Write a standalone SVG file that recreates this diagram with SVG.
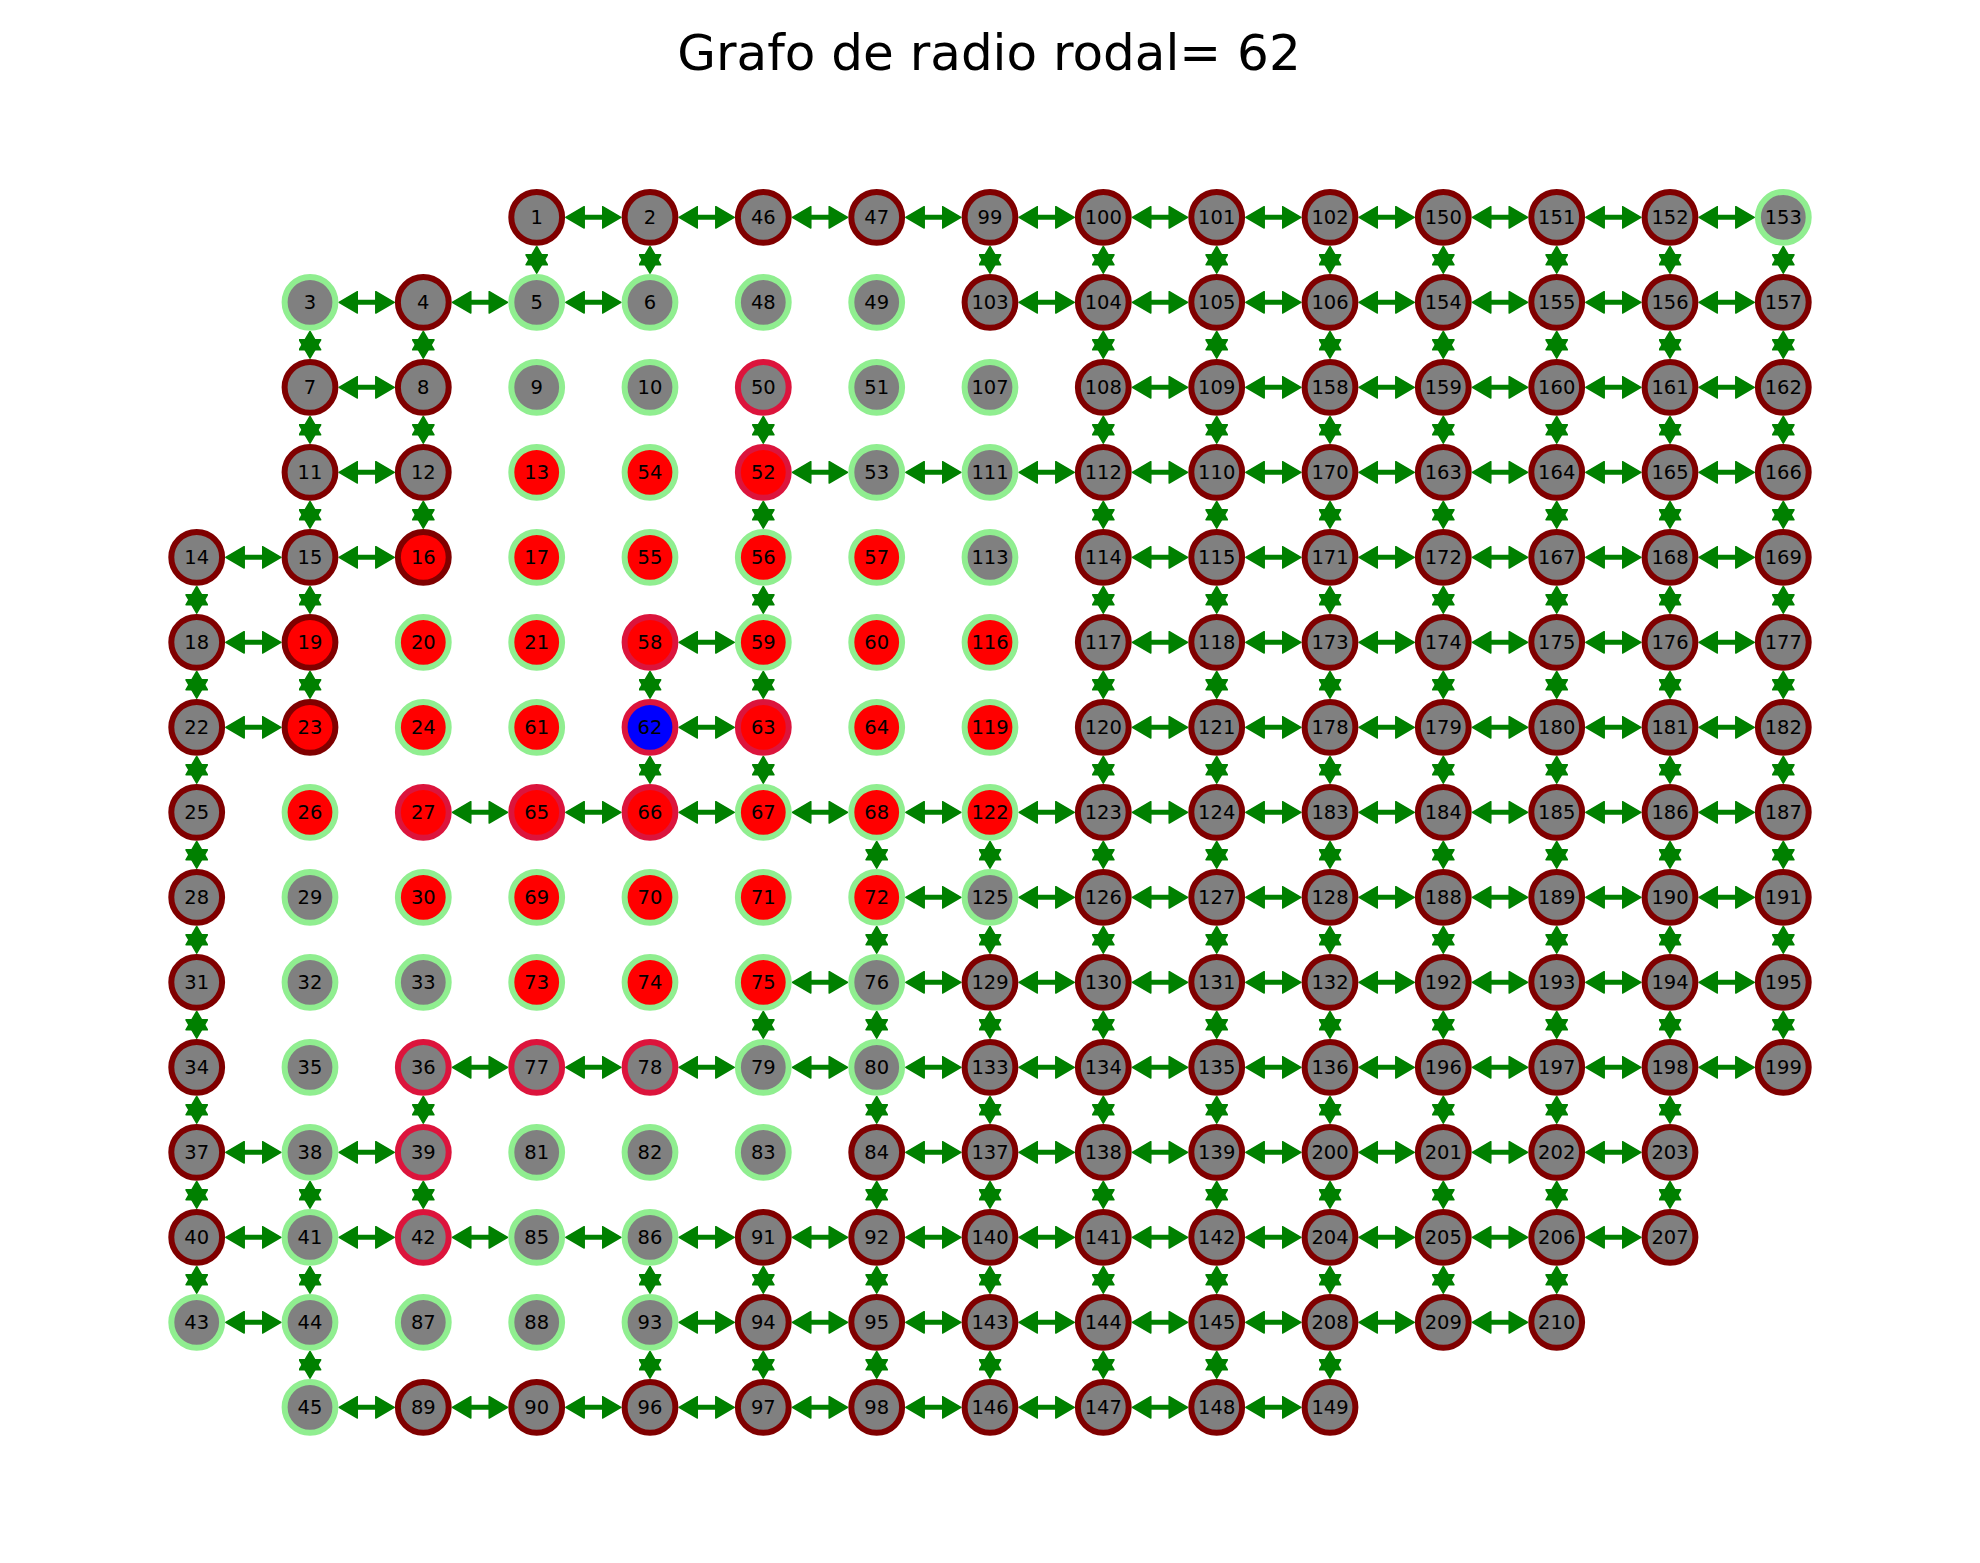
<svg xmlns="http://www.w3.org/2000/svg" width="1980" height="1563" viewBox="0 0 1980 1563">
<style>
.e{fill:none;stroke:#008000;stroke-width:5;marker-start:url(#ah);marker-end:url(#ah)}
.n circle{stroke-width:6}
.n text{font-family:"DejaVu Sans",sans-serif;font-size:19.5px;text-anchor:middle;fill:#000}
.gm circle{fill:#808080;stroke:#800000}
.gl circle{fill:#808080;stroke:#90ee90}
.gc circle{fill:#808080;stroke:#dc143c}
.rm circle{fill:#ff0000;stroke:#800000}
.rl circle{fill:#ff0000;stroke:#90ee90}
.rc circle{fill:#ff0000;stroke:#dc143c}
.bc circle{fill:#0000ff;stroke:#dc143c}
.title{font-family:"DejaVu Sans",sans-serif;font-size:50px;text-anchor:middle;fill:#000}
</style>
<defs>
<marker id="ah" viewBox="0 0 20 23" refX="12" refY="11.5" markerWidth="20" markerHeight="23" markerUnits="userSpaceOnUse" orient="auto-start-reverse">
<path d="M0.8,0.8 L19.2,11.5 L0.8,22.2 Z" fill="#008000" stroke="#008000" stroke-width="1.5" stroke-linejoin="round"/>
</marker>
</defs>
<rect width="1980" height="1563" fill="#fff"/>
<text class="title" x="989" y="70">Grafo de radio rodal= 62</text>
<g id="edges">
<!-- row 0 -->
<path class="e" d="M573 217.3H613.7"/><path class="e" d="M686.3 217.3H727"/><path class="e" d="M799.6 217.3H840.4"/><path class="e" d="M913 217.3H953.7"/><path class="e" d="M1026.3 217.3H1067"/><path class="e" d="M1139.6 217.3H1180.4"/><path class="e" d="M1253 217.3H1293.7"/><path class="e" d="M1366.3 217.3H1407"/><path class="e" d="M1479.6 217.3H1520.4"/><path class="e" d="M1593 217.3H1633.7"/><path class="e" d="M1706.3 217.3H1747"/>
<!-- row 1 -->
<path class="e" d="M346.3 302.3H387"/><path class="e" d="M459.6 302.3H500.4"/><path class="e" d="M573 302.3H613.7"/><path class="e" d="M1026.3 302.3H1067"/><path class="e" d="M1139.6 302.3H1180.4"/><path class="e" d="M1253 302.3H1293.7"/><path class="e" d="M1366.3 302.3H1407"/><path class="e" d="M1479.6 302.3H1520.4"/><path class="e" d="M1593 302.3H1633.7"/><path class="e" d="M1706.3 302.3H1747"/>
<!-- row 2 -->
<path class="e" d="M346.3 387.3H387"/><path class="e" d="M1139.6 387.3H1180.4"/><path class="e" d="M1253 387.3H1293.7"/><path class="e" d="M1366.3 387.3H1407"/><path class="e" d="M1479.6 387.3H1520.4"/><path class="e" d="M1593 387.3H1633.7"/><path class="e" d="M1706.3 387.3H1747"/>
<!-- row 3 -->
<path class="e" d="M346.3 472.3H387"/><path class="e" d="M799.6 472.3H840.4"/><path class="e" d="M913 472.3H953.7"/><path class="e" d="M1026.3 472.3H1067"/><path class="e" d="M1139.6 472.3H1180.4"/><path class="e" d="M1253 472.3H1293.7"/><path class="e" d="M1366.3 472.3H1407"/><path class="e" d="M1479.6 472.3H1520.4"/><path class="e" d="M1593 472.3H1633.7"/><path class="e" d="M1706.3 472.3H1747"/>
<!-- row 4 -->
<path class="e" d="M233 557.3H273.7"/><path class="e" d="M346.3 557.3H387"/><path class="e" d="M1139.6 557.3H1180.4"/><path class="e" d="M1253 557.3H1293.7"/><path class="e" d="M1366.3 557.3H1407"/><path class="e" d="M1479.6 557.3H1520.4"/><path class="e" d="M1593 557.3H1633.7"/><path class="e" d="M1706.3 557.3H1747"/>
<!-- row 5 -->
<path class="e" d="M233 642.3H273.7"/><path class="e" d="M686.3 642.3H727"/><path class="e" d="M1139.6 642.3H1180.4"/><path class="e" d="M1253 642.3H1293.7"/><path class="e" d="M1366.3 642.3H1407"/><path class="e" d="M1479.6 642.3H1520.4"/><path class="e" d="M1593 642.3H1633.7"/><path class="e" d="M1706.3 642.3H1747"/>
<!-- row 6 -->
<path class="e" d="M233 727.3H273.7"/><path class="e" d="M686.3 727.3H727"/><path class="e" d="M1139.6 727.3H1180.4"/><path class="e" d="M1253 727.3H1293.7"/><path class="e" d="M1366.3 727.3H1407"/><path class="e" d="M1479.6 727.3H1520.4"/><path class="e" d="M1593 727.3H1633.7"/><path class="e" d="M1706.3 727.3H1747"/>
<!-- row 7 -->
<path class="e" d="M459.6 812.3H500.4"/><path class="e" d="M573 812.3H613.7"/><path class="e" d="M686.3 812.3H727"/><path class="e" d="M799.6 812.3H840.4"/><path class="e" d="M913 812.3H953.7"/><path class="e" d="M1026.3 812.3H1067"/><path class="e" d="M1139.6 812.3H1180.4"/><path class="e" d="M1253 812.3H1293.7"/><path class="e" d="M1366.3 812.3H1407"/><path class="e" d="M1479.6 812.3H1520.4"/><path class="e" d="M1593 812.3H1633.7"/><path class="e" d="M1706.3 812.3H1747"/>
<!-- row 8 -->
<path class="e" d="M913 897.3H953.7"/><path class="e" d="M1026.3 897.3H1067"/><path class="e" d="M1139.6 897.3H1180.4"/><path class="e" d="M1253 897.3H1293.7"/><path class="e" d="M1366.3 897.3H1407"/><path class="e" d="M1479.6 897.3H1520.4"/><path class="e" d="M1593 897.3H1633.7"/><path class="e" d="M1706.3 897.3H1747"/>
<!-- row 9 -->
<path class="e" d="M799.6 982.3H840.4"/><path class="e" d="M913 982.3H953.7"/><path class="e" d="M1026.3 982.3H1067"/><path class="e" d="M1139.6 982.3H1180.4"/><path class="e" d="M1253 982.3H1293.7"/><path class="e" d="M1366.3 982.3H1407"/><path class="e" d="M1479.6 982.3H1520.4"/><path class="e" d="M1593 982.3H1633.7"/><path class="e" d="M1706.3 982.3H1747"/>
<!-- row 10 -->
<path class="e" d="M459.6 1067.3H500.4"/><path class="e" d="M573 1067.3H613.7"/><path class="e" d="M686.3 1067.3H727"/><path class="e" d="M799.6 1067.3H840.4"/><path class="e" d="M913 1067.3H953.7"/><path class="e" d="M1026.3 1067.3H1067"/><path class="e" d="M1139.6 1067.3H1180.4"/><path class="e" d="M1253 1067.3H1293.7"/><path class="e" d="M1366.3 1067.3H1407"/><path class="e" d="M1479.6 1067.3H1520.4"/><path class="e" d="M1593 1067.3H1633.7"/><path class="e" d="M1706.3 1067.3H1747"/>
<!-- row 11 -->
<path class="e" d="M233 1152.3H273.7"/><path class="e" d="M346.3 1152.3H387"/><path class="e" d="M913 1152.3H953.7"/><path class="e" d="M1026.3 1152.3H1067"/><path class="e" d="M1139.6 1152.3H1180.4"/><path class="e" d="M1253 1152.3H1293.7"/><path class="e" d="M1366.3 1152.3H1407"/><path class="e" d="M1479.6 1152.3H1520.4"/><path class="e" d="M1593 1152.3H1633.7"/>
<!-- row 12 -->
<path class="e" d="M233 1237.3H273.7"/><path class="e" d="M346.3 1237.3H387"/><path class="e" d="M459.6 1237.3H500.4"/><path class="e" d="M573 1237.3H613.7"/><path class="e" d="M686.3 1237.3H727"/><path class="e" d="M799.6 1237.3H840.4"/><path class="e" d="M913 1237.3H953.7"/><path class="e" d="M1026.3 1237.3H1067"/><path class="e" d="M1139.6 1237.3H1180.4"/><path class="e" d="M1253 1237.3H1293.7"/><path class="e" d="M1366.3 1237.3H1407"/><path class="e" d="M1479.6 1237.3H1520.4"/><path class="e" d="M1593 1237.3H1633.7"/>
<!-- row 13 -->
<path class="e" d="M233 1322.3H273.7"/><path class="e" d="M686.3 1322.3H727"/><path class="e" d="M799.6 1322.3H840.4"/><path class="e" d="M913 1322.3H953.7"/><path class="e" d="M1026.3 1322.3H1067"/><path class="e" d="M1139.6 1322.3H1180.4"/><path class="e" d="M1253 1322.3H1293.7"/><path class="e" d="M1366.3 1322.3H1407"/><path class="e" d="M1479.6 1322.3H1520.4"/>
<!-- row 14 -->
<path class="e" d="M346.3 1407.3H387"/><path class="e" d="M459.6 1407.3H500.4"/><path class="e" d="M573 1407.3H613.7"/><path class="e" d="M686.3 1407.3H727"/><path class="e" d="M799.6 1407.3H840.4"/><path class="e" d="M913 1407.3H953.7"/><path class="e" d="M1026.3 1407.3H1067"/><path class="e" d="M1139.6 1407.3H1180.4"/><path class="e" d="M1253 1407.3H1293.7"/>
<!-- col 0 -->
<path class="e" d="M196.7 593.6V606"/><path class="e" d="M196.7 678.6V691"/><path class="e" d="M196.7 763.6V776"/><path class="e" d="M196.7 848.6V861"/><path class="e" d="M196.7 933.6V946"/><path class="e" d="M196.7 1018.6V1031"/><path class="e" d="M196.7 1103.6V1116"/><path class="e" d="M196.7 1188.6V1201"/><path class="e" d="M196.7 1273.6V1286"/>
<!-- col 1 -->
<path class="e" d="M310 338.6V351"/><path class="e" d="M310 423.6V436"/><path class="e" d="M310 508.6V521"/><path class="e" d="M310 593.6V606"/><path class="e" d="M310 678.6V691"/><path class="e" d="M310 1188.6V1201"/><path class="e" d="M310 1273.6V1286"/><path class="e" d="M310 1358.6V1371"/>
<!-- col 2 -->
<path class="e" d="M423.3 338.6V351"/><path class="e" d="M423.3 423.6V436"/><path class="e" d="M423.3 508.6V521"/><path class="e" d="M423.3 1103.6V1116"/><path class="e" d="M423.3 1188.6V1201"/>
<!-- col 3 -->
<path class="e" d="M536.7 253.6V266"/>
<!-- col 4 -->
<path class="e" d="M650 253.6V266"/><path class="e" d="M650 678.6V691"/><path class="e" d="M650 763.6V776"/><path class="e" d="M650 1273.6V1286"/><path class="e" d="M650 1358.6V1371"/>
<!-- col 5 -->
<path class="e" d="M763.3 423.6V436"/><path class="e" d="M763.3 508.6V521"/><path class="e" d="M763.3 593.6V606"/><path class="e" d="M763.3 678.6V691"/><path class="e" d="M763.3 763.6V776"/><path class="e" d="M763.3 1018.6V1031"/><path class="e" d="M763.3 1273.6V1286"/><path class="e" d="M763.3 1358.6V1371"/>
<!-- col 6 -->
<path class="e" d="M876.7 848.6V861"/><path class="e" d="M876.7 933.6V946"/><path class="e" d="M876.7 1018.6V1031"/><path class="e" d="M876.7 1103.6V1116"/><path class="e" d="M876.7 1188.6V1201"/><path class="e" d="M876.7 1273.6V1286"/><path class="e" d="M876.7 1358.6V1371"/>
<!-- col 7 -->
<path class="e" d="M990 253.6V266"/><path class="e" d="M990 848.6V861"/><path class="e" d="M990 933.6V946"/><path class="e" d="M990 1018.6V1031"/><path class="e" d="M990 1103.6V1116"/><path class="e" d="M990 1188.6V1201"/><path class="e" d="M990 1273.6V1286"/><path class="e" d="M990 1358.6V1371"/>
<!-- col 8 -->
<path class="e" d="M1103.3 253.6V266"/><path class="e" d="M1103.3 338.6V351"/><path class="e" d="M1103.3 423.6V436"/><path class="e" d="M1103.3 508.6V521"/><path class="e" d="M1103.3 593.6V606"/><path class="e" d="M1103.3 678.6V691"/><path class="e" d="M1103.3 763.6V776"/><path class="e" d="M1103.3 848.6V861"/><path class="e" d="M1103.3 933.6V946"/><path class="e" d="M1103.3 1018.6V1031"/><path class="e" d="M1103.3 1103.6V1116"/><path class="e" d="M1103.3 1188.6V1201"/><path class="e" d="M1103.3 1273.6V1286"/><path class="e" d="M1103.3 1358.6V1371"/>
<!-- col 9 -->
<path class="e" d="M1216.7 253.6V266"/><path class="e" d="M1216.7 338.6V351"/><path class="e" d="M1216.7 423.6V436"/><path class="e" d="M1216.7 508.6V521"/><path class="e" d="M1216.7 593.6V606"/><path class="e" d="M1216.7 678.6V691"/><path class="e" d="M1216.7 763.6V776"/><path class="e" d="M1216.7 848.6V861"/><path class="e" d="M1216.7 933.6V946"/><path class="e" d="M1216.7 1018.6V1031"/><path class="e" d="M1216.7 1103.6V1116"/><path class="e" d="M1216.7 1188.6V1201"/><path class="e" d="M1216.7 1273.6V1286"/><path class="e" d="M1216.7 1358.6V1371"/>
<!-- col 10 -->
<path class="e" d="M1330 253.6V266"/><path class="e" d="M1330 338.6V351"/><path class="e" d="M1330 423.6V436"/><path class="e" d="M1330 508.6V521"/><path class="e" d="M1330 593.6V606"/><path class="e" d="M1330 678.6V691"/><path class="e" d="M1330 763.6V776"/><path class="e" d="M1330 848.6V861"/><path class="e" d="M1330 933.6V946"/><path class="e" d="M1330 1018.6V1031"/><path class="e" d="M1330 1103.6V1116"/><path class="e" d="M1330 1188.6V1201"/><path class="e" d="M1330 1273.6V1286"/><path class="e" d="M1330 1358.6V1371"/>
<!-- col 11 -->
<path class="e" d="M1443.3 253.6V266"/><path class="e" d="M1443.3 338.6V351"/><path class="e" d="M1443.3 423.6V436"/><path class="e" d="M1443.3 508.6V521"/><path class="e" d="M1443.3 593.6V606"/><path class="e" d="M1443.3 678.6V691"/><path class="e" d="M1443.3 763.6V776"/><path class="e" d="M1443.3 848.6V861"/><path class="e" d="M1443.3 933.6V946"/><path class="e" d="M1443.3 1018.6V1031"/><path class="e" d="M1443.3 1103.6V1116"/><path class="e" d="M1443.3 1188.6V1201"/><path class="e" d="M1443.3 1273.6V1286"/>
<!-- col 12 -->
<path class="e" d="M1556.7 253.6V266"/><path class="e" d="M1556.7 338.6V351"/><path class="e" d="M1556.7 423.6V436"/><path class="e" d="M1556.7 508.6V521"/><path class="e" d="M1556.7 593.6V606"/><path class="e" d="M1556.7 678.6V691"/><path class="e" d="M1556.7 763.6V776"/><path class="e" d="M1556.7 848.6V861"/><path class="e" d="M1556.7 933.6V946"/><path class="e" d="M1556.7 1018.6V1031"/><path class="e" d="M1556.7 1103.6V1116"/><path class="e" d="M1556.7 1188.6V1201"/><path class="e" d="M1556.7 1273.6V1286"/>
<!-- col 13 -->
<path class="e" d="M1670 253.6V266"/><path class="e" d="M1670 338.6V351"/><path class="e" d="M1670 423.6V436"/><path class="e" d="M1670 508.6V521"/><path class="e" d="M1670 593.6V606"/><path class="e" d="M1670 678.6V691"/><path class="e" d="M1670 763.6V776"/><path class="e" d="M1670 848.6V861"/><path class="e" d="M1670 933.6V946"/><path class="e" d="M1670 1018.6V1031"/><path class="e" d="M1670 1103.6V1116"/><path class="e" d="M1670 1188.6V1201"/>
<!-- col 14 -->
<path class="e" d="M1783.3 253.6V266"/><path class="e" d="M1783.3 338.6V351"/><path class="e" d="M1783.3 423.6V436"/><path class="e" d="M1783.3 508.6V521"/><path class="e" d="M1783.3 593.6V606"/><path class="e" d="M1783.3 678.6V691"/><path class="e" d="M1783.3 763.6V776"/><path class="e" d="M1783.3 848.6V861"/><path class="e" d="M1783.3 933.6V946"/><path class="e" d="M1783.3 1018.6V1031"/>
</g>
<g id="nodes">
<!-- row 0 -->
<g id="n1" class="n gm" transform="translate(536.7 217.3)"><circle r="25.4"/><text y="7">1</text></g>
<g id="n2" class="n gm" transform="translate(650 217.3)"><circle r="25.4"/><text y="7">2</text></g>
<g id="n46" class="n gm" transform="translate(763.3 217.3)"><circle r="25.4"/><text y="7">46</text></g>
<g id="n47" class="n gm" transform="translate(876.7 217.3)"><circle r="25.4"/><text y="7">47</text></g>
<g id="n99" class="n gm" transform="translate(990 217.3)"><circle r="25.4"/><text y="7">99</text></g>
<g id="n100" class="n gm" transform="translate(1103.3 217.3)"><circle r="25.4"/><text y="7">100</text></g>
<g id="n101" class="n gm" transform="translate(1216.7 217.3)"><circle r="25.4"/><text y="7">101</text></g>
<g id="n102" class="n gm" transform="translate(1330 217.3)"><circle r="25.4"/><text y="7">102</text></g>
<g id="n150" class="n gm" transform="translate(1443.3 217.3)"><circle r="25.4"/><text y="7">150</text></g>
<g id="n151" class="n gm" transform="translate(1556.7 217.3)"><circle r="25.4"/><text y="7">151</text></g>
<g id="n152" class="n gm" transform="translate(1670 217.3)"><circle r="25.4"/><text y="7">152</text></g>
<g id="n153" class="n gl" transform="translate(1783.3 217.3)"><circle r="25.4"/><text y="7">153</text></g>
<!-- row 1 -->
<g id="n3" class="n gl" transform="translate(310 302.3)"><circle r="25.4"/><text y="7">3</text></g>
<g id="n4" class="n gm" transform="translate(423.3 302.3)"><circle r="25.4"/><text y="7">4</text></g>
<g id="n5" class="n gl" transform="translate(536.7 302.3)"><circle r="25.4"/><text y="7">5</text></g>
<g id="n6" class="n gl" transform="translate(650 302.3)"><circle r="25.4"/><text y="7">6</text></g>
<g id="n48" class="n gl" transform="translate(763.3 302.3)"><circle r="25.4"/><text y="7">48</text></g>
<g id="n49" class="n gl" transform="translate(876.7 302.3)"><circle r="25.4"/><text y="7">49</text></g>
<g id="n103" class="n gm" transform="translate(990 302.3)"><circle r="25.4"/><text y="7">103</text></g>
<g id="n104" class="n gm" transform="translate(1103.3 302.3)"><circle r="25.4"/><text y="7">104</text></g>
<g id="n105" class="n gm" transform="translate(1216.7 302.3)"><circle r="25.4"/><text y="7">105</text></g>
<g id="n106" class="n gm" transform="translate(1330 302.3)"><circle r="25.4"/><text y="7">106</text></g>
<g id="n154" class="n gm" transform="translate(1443.3 302.3)"><circle r="25.4"/><text y="7">154</text></g>
<g id="n155" class="n gm" transform="translate(1556.7 302.3)"><circle r="25.4"/><text y="7">155</text></g>
<g id="n156" class="n gm" transform="translate(1670 302.3)"><circle r="25.4"/><text y="7">156</text></g>
<g id="n157" class="n gm" transform="translate(1783.3 302.3)"><circle r="25.4"/><text y="7">157</text></g>
<!-- row 2 -->
<g id="n7" class="n gm" transform="translate(310 387.3)"><circle r="25.4"/><text y="7">7</text></g>
<g id="n8" class="n gm" transform="translate(423.3 387.3)"><circle r="25.4"/><text y="7">8</text></g>
<g id="n9" class="n gl" transform="translate(536.7 387.3)"><circle r="25.4"/><text y="7">9</text></g>
<g id="n10" class="n gl" transform="translate(650 387.3)"><circle r="25.4"/><text y="7">10</text></g>
<g id="n50" class="n gc" transform="translate(763.3 387.3)"><circle r="25.4"/><text y="7">50</text></g>
<g id="n51" class="n gl" transform="translate(876.7 387.3)"><circle r="25.4"/><text y="7">51</text></g>
<g id="n107" class="n gl" transform="translate(990 387.3)"><circle r="25.4"/><text y="7">107</text></g>
<g id="n108" class="n gm" transform="translate(1103.3 387.3)"><circle r="25.4"/><text y="7">108</text></g>
<g id="n109" class="n gm" transform="translate(1216.7 387.3)"><circle r="25.4"/><text y="7">109</text></g>
<g id="n158" class="n gm" transform="translate(1330 387.3)"><circle r="25.4"/><text y="7">158</text></g>
<g id="n159" class="n gm" transform="translate(1443.3 387.3)"><circle r="25.4"/><text y="7">159</text></g>
<g id="n160" class="n gm" transform="translate(1556.7 387.3)"><circle r="25.4"/><text y="7">160</text></g>
<g id="n161" class="n gm" transform="translate(1670 387.3)"><circle r="25.4"/><text y="7">161</text></g>
<g id="n162" class="n gm" transform="translate(1783.3 387.3)"><circle r="25.4"/><text y="7">162</text></g>
<!-- row 3 -->
<g id="n11" class="n gm" transform="translate(310 472.3)"><circle r="25.4"/><text y="7">11</text></g>
<g id="n12" class="n gm" transform="translate(423.3 472.3)"><circle r="25.4"/><text y="7">12</text></g>
<g id="n13" class="n rl" transform="translate(536.7 472.3)"><circle r="25.4"/><text y="7">13</text></g>
<g id="n54" class="n rl" transform="translate(650 472.3)"><circle r="25.4"/><text y="7">54</text></g>
<g id="n52" class="n rc" transform="translate(763.3 472.3)"><circle r="25.4"/><text y="7">52</text></g>
<g id="n53" class="n gl" transform="translate(876.7 472.3)"><circle r="25.4"/><text y="7">53</text></g>
<g id="n111" class="n gl" transform="translate(990 472.3)"><circle r="25.4"/><text y="7">111</text></g>
<g id="n112" class="n gm" transform="translate(1103.3 472.3)"><circle r="25.4"/><text y="7">112</text></g>
<g id="n110" class="n gm" transform="translate(1216.7 472.3)"><circle r="25.4"/><text y="7">110</text></g>
<g id="n170" class="n gm" transform="translate(1330 472.3)"><circle r="25.4"/><text y="7">170</text></g>
<g id="n163" class="n gm" transform="translate(1443.3 472.3)"><circle r="25.4"/><text y="7">163</text></g>
<g id="n164" class="n gm" transform="translate(1556.7 472.3)"><circle r="25.4"/><text y="7">164</text></g>
<g id="n165" class="n gm" transform="translate(1670 472.3)"><circle r="25.4"/><text y="7">165</text></g>
<g id="n166" class="n gm" transform="translate(1783.3 472.3)"><circle r="25.4"/><text y="7">166</text></g>
<!-- row 4 -->
<g id="n14" class="n gm" transform="translate(196.7 557.3)"><circle r="25.4"/><text y="7">14</text></g>
<g id="n15" class="n gm" transform="translate(310 557.3)"><circle r="25.4"/><text y="7">15</text></g>
<g id="n16" class="n rm" transform="translate(423.3 557.3)"><circle r="25.4"/><text y="7">16</text></g>
<g id="n17" class="n rl" transform="translate(536.7 557.3)"><circle r="25.4"/><text y="7">17</text></g>
<g id="n55" class="n rl" transform="translate(650 557.3)"><circle r="25.4"/><text y="7">55</text></g>
<g id="n56" class="n rl" transform="translate(763.3 557.3)"><circle r="25.4"/><text y="7">56</text></g>
<g id="n57" class="n rl" transform="translate(876.7 557.3)"><circle r="25.4"/><text y="7">57</text></g>
<g id="n113" class="n gl" transform="translate(990 557.3)"><circle r="25.4"/><text y="7">113</text></g>
<g id="n114" class="n gm" transform="translate(1103.3 557.3)"><circle r="25.4"/><text y="7">114</text></g>
<g id="n115" class="n gm" transform="translate(1216.7 557.3)"><circle r="25.4"/><text y="7">115</text></g>
<g id="n171" class="n gm" transform="translate(1330 557.3)"><circle r="25.4"/><text y="7">171</text></g>
<g id="n172" class="n gm" transform="translate(1443.3 557.3)"><circle r="25.4"/><text y="7">172</text></g>
<g id="n167" class="n gm" transform="translate(1556.7 557.3)"><circle r="25.4"/><text y="7">167</text></g>
<g id="n168" class="n gm" transform="translate(1670 557.3)"><circle r="25.4"/><text y="7">168</text></g>
<g id="n169" class="n gm" transform="translate(1783.3 557.3)"><circle r="25.4"/><text y="7">169</text></g>
<!-- row 5 -->
<g id="n18" class="n gm" transform="translate(196.7 642.3)"><circle r="25.4"/><text y="7">18</text></g>
<g id="n19" class="n rm" transform="translate(310 642.3)"><circle r="25.4"/><text y="7">19</text></g>
<g id="n20" class="n rl" transform="translate(423.3 642.3)"><circle r="25.4"/><text y="7">20</text></g>
<g id="n21" class="n rl" transform="translate(536.7 642.3)"><circle r="25.4"/><text y="7">21</text></g>
<g id="n58" class="n rc" transform="translate(650 642.3)"><circle r="25.4"/><text y="7">58</text></g>
<g id="n59" class="n rl" transform="translate(763.3 642.3)"><circle r="25.4"/><text y="7">59</text></g>
<g id="n60" class="n rl" transform="translate(876.7 642.3)"><circle r="25.4"/><text y="7">60</text></g>
<g id="n116" class="n rl" transform="translate(990 642.3)"><circle r="25.4"/><text y="7">116</text></g>
<g id="n117" class="n gm" transform="translate(1103.3 642.3)"><circle r="25.4"/><text y="7">117</text></g>
<g id="n118" class="n gm" transform="translate(1216.7 642.3)"><circle r="25.4"/><text y="7">118</text></g>
<g id="n173" class="n gm" transform="translate(1330 642.3)"><circle r="25.4"/><text y="7">173</text></g>
<g id="n174" class="n gm" transform="translate(1443.3 642.3)"><circle r="25.4"/><text y="7">174</text></g>
<g id="n175" class="n gm" transform="translate(1556.7 642.3)"><circle r="25.4"/><text y="7">175</text></g>
<g id="n176" class="n gm" transform="translate(1670 642.3)"><circle r="25.4"/><text y="7">176</text></g>
<g id="n177" class="n gm" transform="translate(1783.3 642.3)"><circle r="25.4"/><text y="7">177</text></g>
<!-- row 6 -->
<g id="n22" class="n gm" transform="translate(196.7 727.3)"><circle r="25.4"/><text y="7">22</text></g>
<g id="n23" class="n rm" transform="translate(310 727.3)"><circle r="25.4"/><text y="7">23</text></g>
<g id="n24" class="n rl" transform="translate(423.3 727.3)"><circle r="25.4"/><text y="7">24</text></g>
<g id="n61" class="n rl" transform="translate(536.7 727.3)"><circle r="25.4"/><text y="7">61</text></g>
<g id="n62" class="n bc" transform="translate(650 727.3)"><circle r="25.4"/><text y="7">62</text></g>
<g id="n63" class="n rc" transform="translate(763.3 727.3)"><circle r="25.4"/><text y="7">63</text></g>
<g id="n64" class="n rl" transform="translate(876.7 727.3)"><circle r="25.4"/><text y="7">64</text></g>
<g id="n119" class="n rl" transform="translate(990 727.3)"><circle r="25.4"/><text y="7">119</text></g>
<g id="n120" class="n gm" transform="translate(1103.3 727.3)"><circle r="25.4"/><text y="7">120</text></g>
<g id="n121" class="n gm" transform="translate(1216.7 727.3)"><circle r="25.4"/><text y="7">121</text></g>
<g id="n178" class="n gm" transform="translate(1330 727.3)"><circle r="25.4"/><text y="7">178</text></g>
<g id="n179" class="n gm" transform="translate(1443.3 727.3)"><circle r="25.4"/><text y="7">179</text></g>
<g id="n180" class="n gm" transform="translate(1556.7 727.3)"><circle r="25.4"/><text y="7">180</text></g>
<g id="n181" class="n gm" transform="translate(1670 727.3)"><circle r="25.4"/><text y="7">181</text></g>
<g id="n182" class="n gm" transform="translate(1783.3 727.3)"><circle r="25.4"/><text y="7">182</text></g>
<!-- row 7 -->
<g id="n25" class="n gm" transform="translate(196.7 812.3)"><circle r="25.4"/><text y="7">25</text></g>
<g id="n26" class="n rl" transform="translate(310 812.3)"><circle r="25.4"/><text y="7">26</text></g>
<g id="n27" class="n rc" transform="translate(423.3 812.3)"><circle r="25.4"/><text y="7">27</text></g>
<g id="n65" class="n rc" transform="translate(536.7 812.3)"><circle r="25.4"/><text y="7">65</text></g>
<g id="n66" class="n rc" transform="translate(650 812.3)"><circle r="25.4"/><text y="7">66</text></g>
<g id="n67" class="n rl" transform="translate(763.3 812.3)"><circle r="25.4"/><text y="7">67</text></g>
<g id="n68" class="n rl" transform="translate(876.7 812.3)"><circle r="25.4"/><text y="7">68</text></g>
<g id="n122" class="n rl" transform="translate(990 812.3)"><circle r="25.4"/><text y="7">122</text></g>
<g id="n123" class="n gm" transform="translate(1103.3 812.3)"><circle r="25.4"/><text y="7">123</text></g>
<g id="n124" class="n gm" transform="translate(1216.7 812.3)"><circle r="25.4"/><text y="7">124</text></g>
<g id="n183" class="n gm" transform="translate(1330 812.3)"><circle r="25.4"/><text y="7">183</text></g>
<g id="n184" class="n gm" transform="translate(1443.3 812.3)"><circle r="25.4"/><text y="7">184</text></g>
<g id="n185" class="n gm" transform="translate(1556.7 812.3)"><circle r="25.4"/><text y="7">185</text></g>
<g id="n186" class="n gm" transform="translate(1670 812.3)"><circle r="25.4"/><text y="7">186</text></g>
<g id="n187" class="n gm" transform="translate(1783.3 812.3)"><circle r="25.4"/><text y="7">187</text></g>
<!-- row 8 -->
<g id="n28" class="n gm" transform="translate(196.7 897.3)"><circle r="25.4"/><text y="7">28</text></g>
<g id="n29" class="n gl" transform="translate(310 897.3)"><circle r="25.4"/><text y="7">29</text></g>
<g id="n30" class="n rl" transform="translate(423.3 897.3)"><circle r="25.4"/><text y="7">30</text></g>
<g id="n69" class="n rl" transform="translate(536.7 897.3)"><circle r="25.4"/><text y="7">69</text></g>
<g id="n70" class="n rl" transform="translate(650 897.3)"><circle r="25.4"/><text y="7">70</text></g>
<g id="n71" class="n rl" transform="translate(763.3 897.3)"><circle r="25.4"/><text y="7">71</text></g>
<g id="n72" class="n rl" transform="translate(876.7 897.3)"><circle r="25.4"/><text y="7">72</text></g>
<g id="n125" class="n gl" transform="translate(990 897.3)"><circle r="25.4"/><text y="7">125</text></g>
<g id="n126" class="n gm" transform="translate(1103.3 897.3)"><circle r="25.4"/><text y="7">126</text></g>
<g id="n127" class="n gm" transform="translate(1216.7 897.3)"><circle r="25.4"/><text y="7">127</text></g>
<g id="n128" class="n gm" transform="translate(1330 897.3)"><circle r="25.4"/><text y="7">128</text></g>
<g id="n188" class="n gm" transform="translate(1443.3 897.3)"><circle r="25.4"/><text y="7">188</text></g>
<g id="n189" class="n gm" transform="translate(1556.7 897.3)"><circle r="25.4"/><text y="7">189</text></g>
<g id="n190" class="n gm" transform="translate(1670 897.3)"><circle r="25.4"/><text y="7">190</text></g>
<g id="n191" class="n gm" transform="translate(1783.3 897.3)"><circle r="25.4"/><text y="7">191</text></g>
<!-- row 9 -->
<g id="n31" class="n gm" transform="translate(196.7 982.3)"><circle r="25.4"/><text y="7">31</text></g>
<g id="n32" class="n gl" transform="translate(310 982.3)"><circle r="25.4"/><text y="7">32</text></g>
<g id="n33" class="n gl" transform="translate(423.3 982.3)"><circle r="25.4"/><text y="7">33</text></g>
<g id="n73" class="n rl" transform="translate(536.7 982.3)"><circle r="25.4"/><text y="7">73</text></g>
<g id="n74" class="n rl" transform="translate(650 982.3)"><circle r="25.4"/><text y="7">74</text></g>
<g id="n75" class="n rl" transform="translate(763.3 982.3)"><circle r="25.4"/><text y="7">75</text></g>
<g id="n76" class="n gl" transform="translate(876.7 982.3)"><circle r="25.4"/><text y="7">76</text></g>
<g id="n129" class="n gm" transform="translate(990 982.3)"><circle r="25.4"/><text y="7">129</text></g>
<g id="n130" class="n gm" transform="translate(1103.3 982.3)"><circle r="25.4"/><text y="7">130</text></g>
<g id="n131" class="n gm" transform="translate(1216.7 982.3)"><circle r="25.4"/><text y="7">131</text></g>
<g id="n132" class="n gm" transform="translate(1330 982.3)"><circle r="25.4"/><text y="7">132</text></g>
<g id="n192" class="n gm" transform="translate(1443.3 982.3)"><circle r="25.4"/><text y="7">192</text></g>
<g id="n193" class="n gm" transform="translate(1556.7 982.3)"><circle r="25.4"/><text y="7">193</text></g>
<g id="n194" class="n gm" transform="translate(1670 982.3)"><circle r="25.4"/><text y="7">194</text></g>
<g id="n195" class="n gm" transform="translate(1783.3 982.3)"><circle r="25.4"/><text y="7">195</text></g>
<!-- row 10 -->
<g id="n34" class="n gm" transform="translate(196.7 1067.3)"><circle r="25.4"/><text y="7">34</text></g>
<g id="n35" class="n gl" transform="translate(310 1067.3)"><circle r="25.4"/><text y="7">35</text></g>
<g id="n36" class="n gc" transform="translate(423.3 1067.3)"><circle r="25.4"/><text y="7">36</text></g>
<g id="n77" class="n gc" transform="translate(536.7 1067.3)"><circle r="25.4"/><text y="7">77</text></g>
<g id="n78" class="n gc" transform="translate(650 1067.3)"><circle r="25.4"/><text y="7">78</text></g>
<g id="n79" class="n gl" transform="translate(763.3 1067.3)"><circle r="25.4"/><text y="7">79</text></g>
<g id="n80" class="n gl" transform="translate(876.7 1067.3)"><circle r="25.4"/><text y="7">80</text></g>
<g id="n133" class="n gm" transform="translate(990 1067.3)"><circle r="25.4"/><text y="7">133</text></g>
<g id="n134" class="n gm" transform="translate(1103.3 1067.3)"><circle r="25.4"/><text y="7">134</text></g>
<g id="n135" class="n gm" transform="translate(1216.7 1067.3)"><circle r="25.4"/><text y="7">135</text></g>
<g id="n136" class="n gm" transform="translate(1330 1067.3)"><circle r="25.4"/><text y="7">136</text></g>
<g id="n196" class="n gm" transform="translate(1443.3 1067.3)"><circle r="25.4"/><text y="7">196</text></g>
<g id="n197" class="n gm" transform="translate(1556.7 1067.3)"><circle r="25.4"/><text y="7">197</text></g>
<g id="n198" class="n gm" transform="translate(1670 1067.3)"><circle r="25.4"/><text y="7">198</text></g>
<g id="n199" class="n gm" transform="translate(1783.3 1067.3)"><circle r="25.4"/><text y="7">199</text></g>
<!-- row 11 -->
<g id="n37" class="n gm" transform="translate(196.7 1152.3)"><circle r="25.4"/><text y="7">37</text></g>
<g id="n38" class="n gl" transform="translate(310 1152.3)"><circle r="25.4"/><text y="7">38</text></g>
<g id="n39" class="n gc" transform="translate(423.3 1152.3)"><circle r="25.4"/><text y="7">39</text></g>
<g id="n81" class="n gl" transform="translate(536.7 1152.3)"><circle r="25.4"/><text y="7">81</text></g>
<g id="n82" class="n gl" transform="translate(650 1152.3)"><circle r="25.4"/><text y="7">82</text></g>
<g id="n83" class="n gl" transform="translate(763.3 1152.3)"><circle r="25.4"/><text y="7">83</text></g>
<g id="n84" class="n gm" transform="translate(876.7 1152.3)"><circle r="25.4"/><text y="7">84</text></g>
<g id="n137" class="n gm" transform="translate(990 1152.3)"><circle r="25.4"/><text y="7">137</text></g>
<g id="n138" class="n gm" transform="translate(1103.3 1152.3)"><circle r="25.4"/><text y="7">138</text></g>
<g id="n139" class="n gm" transform="translate(1216.7 1152.3)"><circle r="25.4"/><text y="7">139</text></g>
<g id="n200" class="n gm" transform="translate(1330 1152.3)"><circle r="25.4"/><text y="7">200</text></g>
<g id="n201" class="n gm" transform="translate(1443.3 1152.3)"><circle r="25.4"/><text y="7">201</text></g>
<g id="n202" class="n gm" transform="translate(1556.7 1152.3)"><circle r="25.4"/><text y="7">202</text></g>
<g id="n203" class="n gm" transform="translate(1670 1152.3)"><circle r="25.4"/><text y="7">203</text></g>
<!-- row 12 -->
<g id="n40" class="n gm" transform="translate(196.7 1237.3)"><circle r="25.4"/><text y="7">40</text></g>
<g id="n41" class="n gl" transform="translate(310 1237.3)"><circle r="25.4"/><text y="7">41</text></g>
<g id="n42" class="n gc" transform="translate(423.3 1237.3)"><circle r="25.4"/><text y="7">42</text></g>
<g id="n85" class="n gl" transform="translate(536.7 1237.3)"><circle r="25.4"/><text y="7">85</text></g>
<g id="n86" class="n gl" transform="translate(650 1237.3)"><circle r="25.4"/><text y="7">86</text></g>
<g id="n91" class="n gm" transform="translate(763.3 1237.3)"><circle r="25.4"/><text y="7">91</text></g>
<g id="n92" class="n gm" transform="translate(876.7 1237.3)"><circle r="25.4"/><text y="7">92</text></g>
<g id="n140" class="n gm" transform="translate(990 1237.3)"><circle r="25.4"/><text y="7">140</text></g>
<g id="n141" class="n gm" transform="translate(1103.3 1237.3)"><circle r="25.4"/><text y="7">141</text></g>
<g id="n142" class="n gm" transform="translate(1216.7 1237.3)"><circle r="25.4"/><text y="7">142</text></g>
<g id="n204" class="n gm" transform="translate(1330 1237.3)"><circle r="25.4"/><text y="7">204</text></g>
<g id="n205" class="n gm" transform="translate(1443.3 1237.3)"><circle r="25.4"/><text y="7">205</text></g>
<g id="n206" class="n gm" transform="translate(1556.7 1237.3)"><circle r="25.4"/><text y="7">206</text></g>
<g id="n207" class="n gm" transform="translate(1670 1237.3)"><circle r="25.4"/><text y="7">207</text></g>
<!-- row 13 -->
<g id="n43" class="n gl" transform="translate(196.7 1322.3)"><circle r="25.4"/><text y="7">43</text></g>
<g id="n44" class="n gl" transform="translate(310 1322.3)"><circle r="25.4"/><text y="7">44</text></g>
<g id="n87" class="n gl" transform="translate(423.3 1322.3)"><circle r="25.4"/><text y="7">87</text></g>
<g id="n88" class="n gl" transform="translate(536.7 1322.3)"><circle r="25.4"/><text y="7">88</text></g>
<g id="n93" class="n gl" transform="translate(650 1322.3)"><circle r="25.4"/><text y="7">93</text></g>
<g id="n94" class="n gm" transform="translate(763.3 1322.3)"><circle r="25.4"/><text y="7">94</text></g>
<g id="n95" class="n gm" transform="translate(876.7 1322.3)"><circle r="25.4"/><text y="7">95</text></g>
<g id="n143" class="n gm" transform="translate(990 1322.3)"><circle r="25.4"/><text y="7">143</text></g>
<g id="n144" class="n gm" transform="translate(1103.3 1322.3)"><circle r="25.4"/><text y="7">144</text></g>
<g id="n145" class="n gm" transform="translate(1216.7 1322.3)"><circle r="25.4"/><text y="7">145</text></g>
<g id="n208" class="n gm" transform="translate(1330 1322.3)"><circle r="25.4"/><text y="7">208</text></g>
<g id="n209" class="n gm" transform="translate(1443.3 1322.3)"><circle r="25.4"/><text y="7">209</text></g>
<g id="n210" class="n gm" transform="translate(1556.7 1322.3)"><circle r="25.4"/><text y="7">210</text></g>
<!-- row 14 -->
<g id="n45" class="n gl" transform="translate(310 1407.3)"><circle r="25.4"/><text y="7">45</text></g>
<g id="n89" class="n gm" transform="translate(423.3 1407.3)"><circle r="25.4"/><text y="7">89</text></g>
<g id="n90" class="n gm" transform="translate(536.7 1407.3)"><circle r="25.4"/><text y="7">90</text></g>
<g id="n96" class="n gm" transform="translate(650 1407.3)"><circle r="25.4"/><text y="7">96</text></g>
<g id="n97" class="n gm" transform="translate(763.3 1407.3)"><circle r="25.4"/><text y="7">97</text></g>
<g id="n98" class="n gm" transform="translate(876.7 1407.3)"><circle r="25.4"/><text y="7">98</text></g>
<g id="n146" class="n gm" transform="translate(990 1407.3)"><circle r="25.4"/><text y="7">146</text></g>
<g id="n147" class="n gm" transform="translate(1103.3 1407.3)"><circle r="25.4"/><text y="7">147</text></g>
<g id="n148" class="n gm" transform="translate(1216.7 1407.3)"><circle r="25.4"/><text y="7">148</text></g>
<g id="n149" class="n gm" transform="translate(1330 1407.3)"><circle r="25.4"/><text y="7">149</text></g>
</g>
</svg>
